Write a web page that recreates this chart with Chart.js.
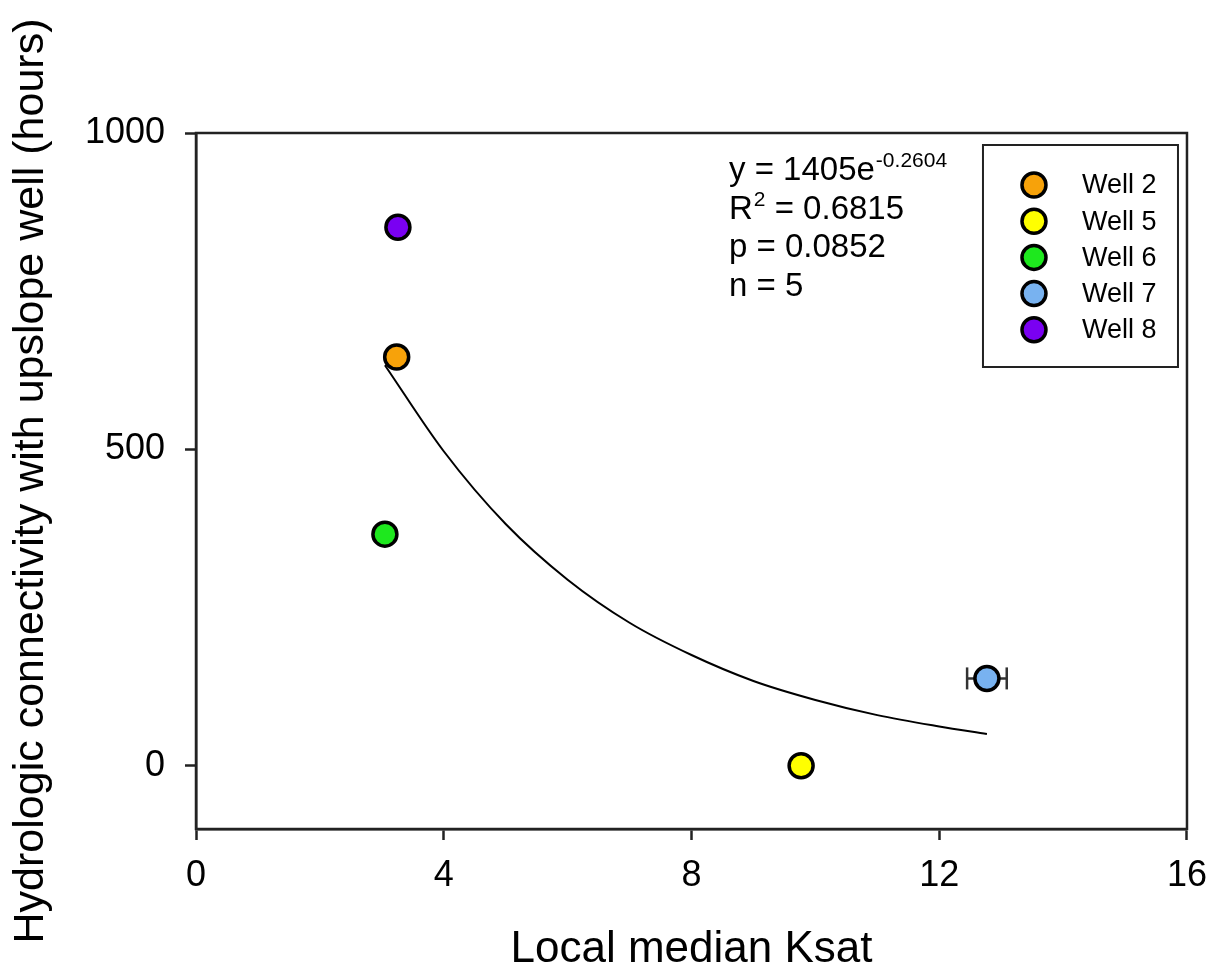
<!DOCTYPE html>
<html>
<head>
<meta charset="utf-8">
<script src="https://cdn.jsdelivr.net/npm/chart.js@4.4.0/dist/chart.umd.min.js"></script>
<style>
  html, body { margin: 0; padding: 0; background: #fff; }
  #wrap { width: 1221px; height: 976px; }
</style>
</head>
<body>
<div id="wrap"><canvas id="ksatchart" width="1221" height="976"></canvas></div>
<script>
var wellNames = ['Well 2', 'Well 5', 'Well 6', 'Well 7', 'Well 8'];
var wellColors = ['#F7A20A', '#FFFF00', '#1EE81E', '#78B2F0', '#7A00F2'];
var ksat = [3.24, 9.77, 3.05, 12.77, 3.26];
var hours = [646, 0, 366, 138, 851];
var ksatErr = [0, 0, 0, 0.32, 0];

// fitted curve, values
var fitX = [3.05, 4, 5, 6, 7, 8, 9, 10, 11, 12, 12.77];
var fitY = [633, 497, 382, 294, 226, 175, 134, 104, 80, 62, 50];

var xTicks = [0, 4, 8, 12, 16];
var yTicks = [0, 500, 1000];

// [text, superscript, rest] per line
var statLines = [
    ['y = 1405e', '-0.2604', ''],
    ['R', '2', ' = 0.6815'],
    ['p = 0.0852', '', ''],
    ['n = 5', '', '']
];

var FONT = 'Arial, "Liberation Sans", sans-serif';
Chart.defaults.font.family = FONT;
Chart.defaults.color = '#000';

var datasets = [];

// wells
wellNames.forEach(function (name, i) {
    datasets.push({
        type: 'scatter',
        label: name,
        data: [{ x: ksat[i], y: hours[i] }],
        backgroundColor: wellColors[i],
        borderColor: '#000',
        borderWidth: 3.5,
        pointRadius: 12,
        pointHoverRadius: 12,
        order: 0
    });
});

// horizontal error bars
ksat.forEach(function (k, i) {
    if (!ksatErr[i]) return;
    datasets.push({
        type: 'line',
        label: 'err',
        data: [{ x: k - ksatErr[i], y: hours[i] }, { x: k + ksatErr[i], y: hours[i] }],
        borderColor: '#333',
        borderWidth: 2.5,
        pointStyle: 'line',
        rotation: 90,
        pointRadius: 11,
        pointBorderColor: '#333',
        pointBorderWidth: 2.5,
        order: 2
    });
});

// fit line
datasets.push({
    type: 'line',
    label: 'fit',
    data: fitX.map(function (x, i) { return { x: x, y: fitY[i] }; }),
    borderColor: '#000',
    borderWidth: 2,
    pointRadius: 0,
    cubicInterpolationMode: 'monotone',
    order: 1
});

var framePlugin = {
    id: 'frame',
    afterDraw: function (chart) {
        var ctx = chart.ctx, a = chart.chartArea;
        ctx.save();
        ctx.strokeStyle = '#222';
        ctx.lineWidth = 2.5;
        ctx.strokeRect(a.left, a.top, a.right - a.left, a.bottom - a.top);

        // stats text
        ctx.fillStyle = '#000';
        ctx.textBaseline = 'alphabetic';
        ctx.textAlign = 'left';
        var tx = a.left + 533, ty = a.top + 47;
        statLines.forEach(function (ln, i) {
            var y = ty + i * 38.5;
            ctx.font = '33px ' + FONT;
            ctx.fillText(ln[0], tx, y);
            var x = tx + ctx.measureText(ln[0]).width;
            if (ln[1]) {
                ctx.font = '21px ' + FONT;
                ctx.fillText(ln[1], x + 1, y - 13);
                x += ctx.measureText(ln[1]).width + 1;
            }
            if (ln[2]) {
                ctx.font = '33px ' + FONT;
                ctx.fillText(ln[2], x, y);
            }
        });

        // legend box
        var lx = a.right - 204, ly = a.top + 12, lw = 195, lh = 222;
        ctx.lineWidth = 2;
        ctx.strokeStyle = '#222';
        ctx.strokeRect(lx, ly, lw, lh);
        ctx.font = '27px ' + FONT;
        ctx.textBaseline = 'middle';
        wellNames.forEach(function (name, i) {
            var cy = ly + 40 + i * 36.2;
            ctx.beginPath();
            ctx.arc(lx + 51, cy, 12, 0, Math.PI * 2);
            ctx.fillStyle = wellColors[i];
            ctx.fill();
            ctx.lineWidth = 3.5;
            ctx.strokeStyle = '#000';
            ctx.stroke();
            ctx.fillStyle = '#000';
            ctx.fillText(name, lx + 99, cy + 1);
        });
        ctx.restore();
    }
};

var ksatchart = new Chart(document.getElementById('ksatchart'), {
    type: 'scatter',
    data: { datasets: datasets },
    options: {
        responsive: false,
        animation: false,
        layout: { padding: { top: 133, right: 32, left: 0, bottom: 0 } },
        plugins: {
            legend: { display: false },
            tooltip: { enabled: false }
        },
        scales: {
            x: {
                type: 'linear',
                min: 0,
                max: 16,
                afterBuildTicks: function (s) { s.ticks = xTicks.map(function (v) { return { value: v }; }); },
                afterFit: function (s) { s.height = 147; },
                ticks: { font: { size: 36 }, padding: 14, color: '#000', callback: function (v) { return String(v); } },
                grid: { drawOnChartArea: false, tickLength: 11, tickColor: '#222', tickWidth: 2.5 },
                border: { color: '#222', width: 2.5 },
                title: {
                    display: true,
                    text: 'Local median Ksat',
                    font: { size: 44, lineHeight: 1 },
                    padding: { top: 0, bottom: 4 },
                    color: '#000'
                }
            },
            y: {
                type: 'linear',
                min: -100,
                max: 1000,
                afterBuildTicks: function (s) { s.ticks = yTicks.map(function (v) { return { value: v }; }); },
                afterFit: function (s) { s.width = 196; },
                ticks: { font: { size: 36 }, padding: 20, color: '#000', callback: function (v) { return String(v); } },
                grid: { drawOnChartArea: false, tickLength: 11, tickColor: '#222', tickWidth: 2.5 },
                border: { color: '#222', width: 2.5 },
                title: {
                    display: true,
                    text: 'Hydrologic connectivity with upslope well (hours)',
                    font: { size: 43, lineHeight: 1 },
                    padding: { top: 10, bottom: 0 },
                    color: '#000'
                }
            }
        }
    },
    plugins: [framePlugin]
});
</script>
</body>
</html>
